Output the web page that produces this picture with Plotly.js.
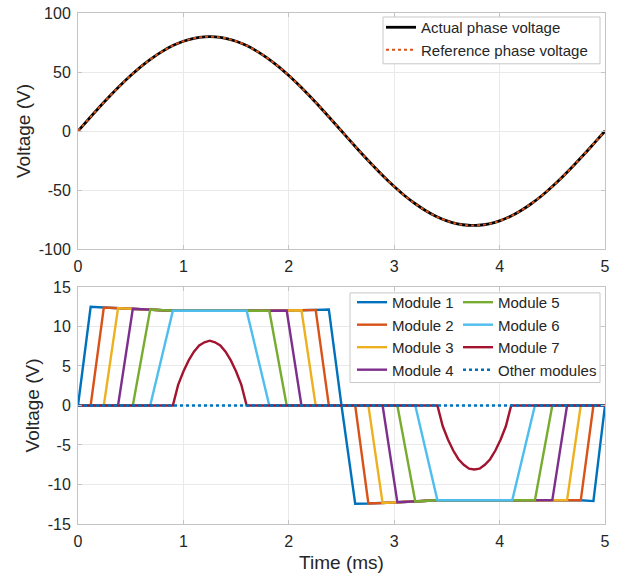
<!DOCTYPE html>
<html>
<head>
<meta charset="utf-8">
<script src="https://cdn.plot.ly/plotly-3.0.1.min.js"></script>
<style>
  html, body { margin: 0; padding: 0; background: #ffffff; }
  #chart { width: 628px; height: 578px; }
</style>
</head>
<body>
<div id="chart"></div>
<script>
// ---------- Top panel: phase voltage (time in ms, voltage in V) ----------
const timeTop = [0, 0.1, 0.2, 0.3, 0.4, 0.5, 0.6, 0.7, 0.8, 0.9, 1.0, 1.1, 1.2, 1.3, 1.4, 1.5, 1.6, 1.7, 1.8, 1.9, 2.0,
  2.1, 2.2, 2.3, 2.4, 2.5, 2.6, 2.7, 2.8, 2.9, 3.0, 3.1, 3.2, 3.3, 3.4, 3.5, 3.6, 3.7, 3.8, 3.9, 4.0,
  4.1, 4.2, 4.3, 4.4, 4.5, 4.6, 4.7, 4.8, 4.9, 5.0];
const actualPhaseV = [0, 10.0, 19.9, 29.4, 38.5, 47.0, 54.8, 61.6, 67.5, 72.4, 76.1, 78.6, 79.8, 79.8, 78.6, 76.1, 72.4, 67.5, 61.6, 54.8, 47.0,
  38.5, 29.4, 19.9, 10.0, 0, -10.0, -19.9, -29.4, -38.5, -47.0, -54.8, -61.6, -67.5, -72.4, -76.1, -78.6, -79.8, -79.8, -78.6, -76.1,
  -72.4, -67.5, -61.6, -54.8, -47.0, -38.5, -29.4, -19.9, -10.0, 0];
const referencePhaseV = [0, 10.0, 19.9, 29.4, 38.5, 47.0, 54.8, 61.6, 67.5, 72.4, 76.1, 78.6, 79.8, 79.8, 78.6, 76.1, 72.4, 67.5, 61.6, 54.8, 47.0,
  38.5, 29.4, 19.9, 10.0, 0, -10.0, -19.9, -29.4, -38.5, -47.0, -54.8, -61.6, -67.5, -72.4, -76.1, -78.6, -79.8, -79.8, -78.6, -76.1,
  -72.4, -67.5, -61.6, -54.8, -47.0, -38.5, -29.4, -19.9, -10.0, 0];

// ---------- Bottom panel: module voltages ----------
const module1T = [0, 0.12, 0.245, 0.38, 0.52, 0.685, 0.9, 1.6, 1.815, 1.98, 2.12, 2.255, 2.38, 2.5, 2.63, 2.755, 2.89, 3.03, 3.2, 3.41, 4.12, 4.335, 4.5, 4.64, 4.77, 4.89, 5];
const module1V = [0, 12.48, 12.40, 12.32, 12.23, 12.15, 11.98, 11.98, 11.98, 12.02, 12.06, 12.10, 12.15, 0, -12.43, -12.40, -12.35, -12.25, -12.15, -12.0, -12.0, -12.0, -11.98, -11.98, -12.0, -12.1, 0];

const module2T = [0, 0.12, 0.245, 0.38, 0.52, 0.685, 0.9, 1.6, 1.815, 1.98, 2.12, 2.255, 2.38, 2.63, 2.755, 2.89, 3.03, 3.2, 3.41, 4.12, 4.335, 4.5, 4.64, 4.77, 4.89, 5];
const module2V = [0, 0, 12.40, 12.32, 12.23, 12.15, 11.98, 11.98, 11.98, 12.02, 12.06, 12.10, 0, 0, -12.40, -12.35, -12.25, -12.15, -12.0, -12.0, -12.0, -11.98, -11.98, -12.0, 0, 0];

const module3T = [0, 0.245, 0.38, 0.52, 0.685, 0.9, 1.6, 1.815, 1.98, 2.12, 2.255, 2.755, 2.89, 3.03, 3.2, 3.41, 4.12, 4.335, 4.5, 4.64, 4.77, 5];
const module3V = [0, 0, 12.32, 12.23, 12.15, 11.98, 11.98, 11.98, 12.02, 12.06, 0, 0, -12.35, -12.25, -12.15, -12.0, -12.0, -12.0, -11.98, -11.98, 0, 0];

const module4T = [0, 0.38, 0.52, 0.685, 0.9, 1.6, 1.815, 1.98, 2.12, 2.89, 3.03, 3.2, 3.41, 4.12, 4.335, 4.5, 4.64, 5];
const module4V = [0, 0, 12.23, 12.15, 11.98, 11.98, 11.98, 12.02, 0, 0, -12.25, -12.15, -12.0, -12.0, -12.0, -11.98, 0, 0];

const module5T = [0, 0.52, 0.685, 0.9, 1.6, 1.815, 1.98, 3.03, 3.2, 3.41, 4.12, 4.335, 4.5, 5];
const module5V = [0, 0, 12.15, 11.98, 11.98, 11.98, 0, 0, -12.15, -12.0, -12.0, -12.0, 0, 0];

const module6T = [0, 0.685, 0.9, 1.6, 1.815, 3.2, 3.41, 4.12, 4.335, 5];
const module6V = [0, 0, 11.98, 11.98, 0, 0, -12.0, -12.0, 0, 0];

const module7T = [0, 0.9, 0.95, 1.0, 1.05, 1.1, 1.15, 1.2, 1.25, 1.3, 1.35, 1.4, 1.45, 1.5, 1.55, 1.6,
  3.41, 3.46, 3.51, 3.56, 3.61, 3.66, 3.71, 3.76, 3.81, 3.86, 3.91, 3.96, 4.01, 4.06, 4.11, 5];
const module7V = [0, 0, 2.6, 4.3, 5.7, 6.8, 7.6, 8.0, 8.2, 8.0, 7.6, 6.8, 5.7, 4.3, 2.6, 0,
  0, -2.6, -4.3, -5.7, -6.8, -7.5, -8.0, -8.1, -8.0, -7.5, -6.8, -5.7, -4.3, -2.6, 0, 0];

const otherT = [0, 5];
const otherV = [0, 0];

const moduleNames = ['Module 1', 'Module 2', 'Module 3', 'Module 4', 'Module 5', 'Module 6', 'Module 7'];
const xTicks = [0, 1, 2, 3, 4, 5];
const yTicksTop = [-100, -50, 0, 50, 100];
const yTicksBottom = [-15, -10, -5, 0, 5, 10, 15];

// ---------- styling ----------
const colors = ['#0072BD', '#D95319', '#EDB120', '#7E2F8E', '#77AC30', '#4DBEEE', '#A2142F'];
const legendColumn = ['legend2', 'legend2', 'legend2', 'legend2', 'legend3', 'legend3', 'legend3'];
const FONT = 'Liberation Sans, Arial, Helvetica, sans-serif';
const TXT = '#262626';
const AX = '#c4c4c4';
const GRID = '#e9e9e9';
const BOX = '#c8c8c8';

// pixel -> paper helpers (plot area: x 78..605, y 11..524)
const PL = 78, PW = 527, PB = 524, PH = 513;
const px = v => (v - PL) / PW;
const py = v => (PB - v) / PH;

const modT = [module1T, module2T, module3T, module4T, module5T, module6T, module7T];
const modV = [module1V, module2V, module3V, module4V, module5V, module6V, module7V];

const traces = [
  { x: timeTop, y: actualPhaseV, xaxis: 'x', yaxis: 'y', mode: 'lines', name: 'Actual phase voltage',
    line: { color: '#000000', width: 2.8, shape: 'spline' }, legend: 'legend' },
  { x: timeTop, y: referencePhaseV, xaxis: 'x', yaxis: 'y', mode: 'lines', name: 'Reference phase voltage',
    line: { color: '#D95319', width: 2, dash: 'dot', shape: 'spline' }, legend: 'legend' }
];
for (let i = 0; i < 7; i++) {
  traces.push({ x: modT[i], y: modV[i], xaxis: 'x2', yaxis: 'y2', mode: 'lines', name: moduleNames[i],
    line: { color: colors[i], width: 2.4 }, legend: legendColumn[i] });
}
traces.push({ x: otherT, y: otherV, xaxis: 'x2', yaxis: 'y2', mode: 'lines', name: 'Other modules',
  line: { color: '#0072BD', width: 2.4, dash: 'dot' }, legend: 'legend3' });

function xAxis(anchor, withTitle) {
  const a = {
    anchor: anchor, domain: [0, 1], range: [0, 5], tickvals: xTicks, ticktext: xTicks.map(String),
    showgrid: true, gridcolor: GRID, gridwidth: 1, zeroline: false,
    showline: true, linecolor: AX, linewidth: 1, mirror: 'ticks',
    ticks: 'inside', ticklen: 4, tickcolor: AX, ticklabelstandoff: 3,
    tickfont: { family: FONT, size: 16, color: TXT }, fixedrange: true
  };
  if (withTitle) a.title = { text: 'Time (ms)', font: { family: FONT, size: 19, color: TXT }, standoff: 6 };
  return a;
}
function yAxis(anchor, domain, range, ticks) {
  return {
    anchor: anchor, domain: domain, range: range, tickvals: ticks, ticktext: ticks.map(String),
    showgrid: true, gridcolor: GRID, gridwidth: 1, zeroline: false,
    showline: true, linecolor: AX, linewidth: 1, mirror: 'ticks',
    ticks: 'inside', ticklen: 4, tickcolor: AX, ticklabelstandoff: 3,
    tickfont: { family: FONT, size: 16, color: TXT },
    title: { text: 'Voltage (V)', font: { family: FONT, size: 19, color: TXT }, standoff: 3 },
    fixedrange: true
  };
}
function legendAt(xPix, yPix) {
  return {
    x: px(xPix), xanchor: 'left', y: py(yPix), yanchor: 'top',
    bgcolor: 'rgba(0,0,0,0)', borderwidth: 0,
    font: { family: FONT, size: 15, color: TXT }, itemwidth: 30, tracegroupgap: 0
  };
}

const layout = {
  width: 628, height: 578,
  margin: { l: 78, r: 23, t: 11, b: 54 },
  paper_bgcolor: '#ffffff', plot_bgcolor: '#ffffff',
  font: { family: FONT, color: TXT },
  xaxis: xAxis('y', false),
  yaxis: yAxis('x', [0.538, 1], [-100, 100], yTicksTop),
  xaxis2: xAxis('y2', true),
  yaxis2: yAxis('x2', [0, 0.4639], [-15, 15], yTicksBottom),
  legend: legendAt(381, 9),
  legend2: legendAt(352, 285),
  legend3: legendAt(458, 285),
  shapes: [
    { type: 'rect', xref: 'paper', yref: 'paper', x0: px(383), x1: px(600), y0: py(62), y1: py(15),
      fillcolor: '#ffffff', line: { color: BOX, width: 1 }, layer: 'above' },
    { type: 'rect', xref: 'paper', yref: 'paper', x0: px(350), x1: px(600), y0: py(382), y1: py(292),
      fillcolor: '#ffffff', line: { color: BOX, width: 1 }, layer: 'above' }
  ],
  showlegend: true
};

Plotly.newPlot('chart', traces, layout, { displayModeBar: false, staticPlot: true });
</script>
</body>
</html>
